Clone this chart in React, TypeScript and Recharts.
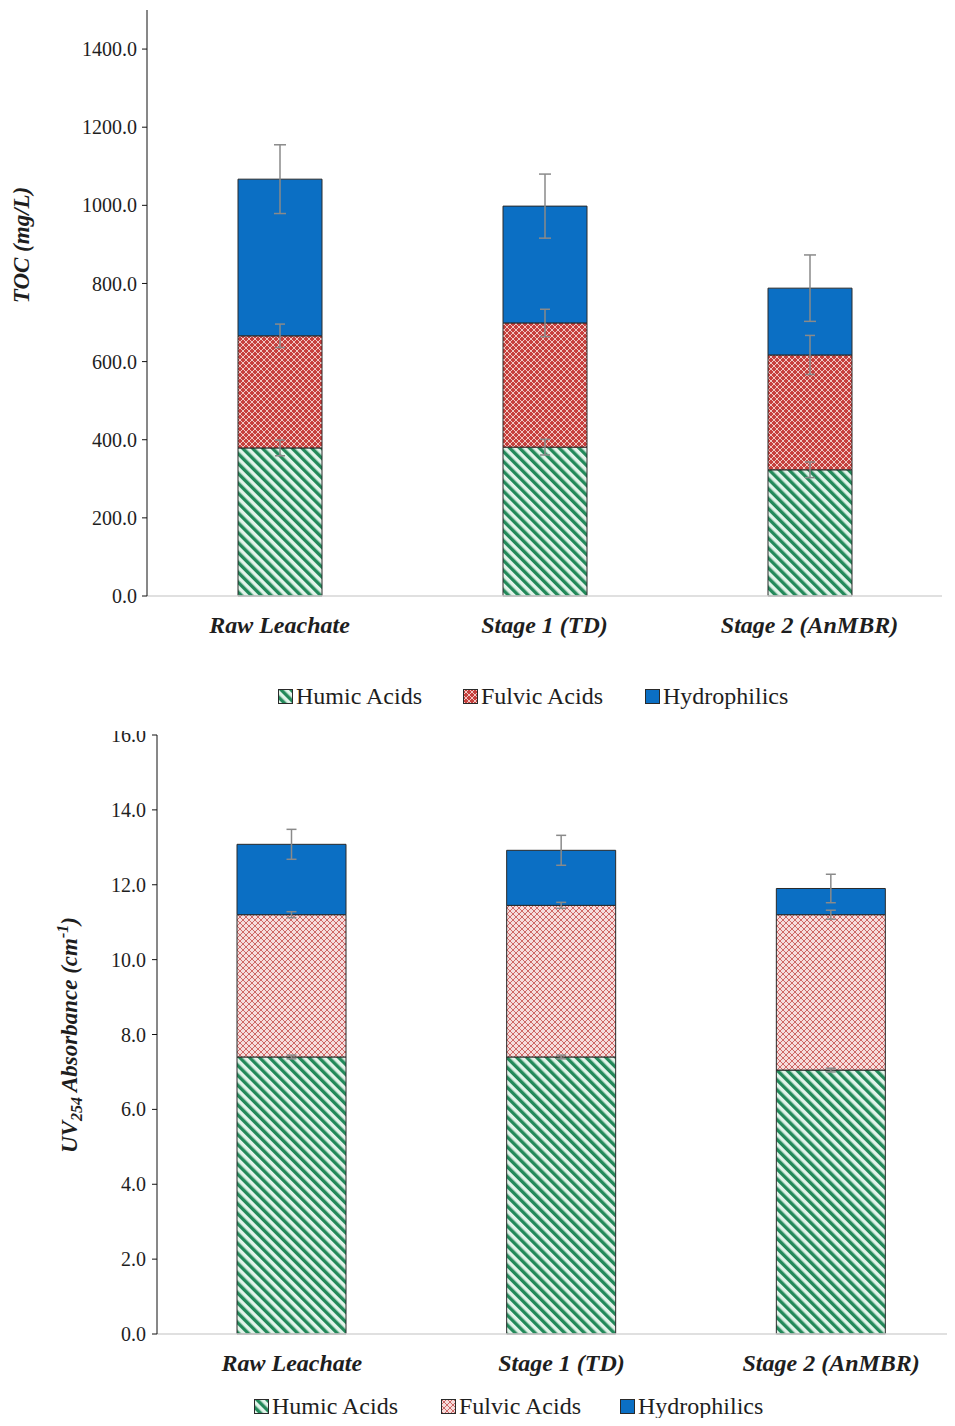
import React from "react";
import { BarChart, Bar, XAxis, YAxis, ErrorBar } from "recharts";

const CATEGORIES = ["Raw Leachate", "Stage 1 (TD)", "Stage 2 (AnMBR)"];
const SERIES = ["Humic Acids", "Fulvic Acids", "Hydrophilics"];

// TOC (mg/L)
const TOC_HUMIC = [379, 381, 323];
const TOC_FULVIC = [287, 318, 294];
const TOC_HYDRO = [401, 299, 171];
const TOC_HUMIC_ERR = [20, 20, 20];
const TOC_FULVIC_ERR = [30, 35, 50];
const TOC_HYDRO_ERR = [88, 82, 85];
const TOC_TICKS = [0, 200, 400, 600, 800, 1000, 1200, 1400];

// UV254 absorbance (cm-1)
const UV_HUMIC = [7.4, 7.4, 7.05];
const UV_FULVIC = [3.8, 4.05, 4.15];
const UV_HYDRO = [1.88, 1.47, 0.7];
const UV_HUMIC_ERR = [0.05, 0.05, 0.05];
const UV_FULVIC_ERR = [0.08, 0.08, 0.12];
const UV_HYDRO_ERR = [0.4, 0.4, 0.38];
const UV_TICKS = [0, 2, 4, 6, 8, 10, 12, 14, 16];

const SERIF = "'Liberation Serif', 'Times New Roman', serif";
const INK = "#1e1e1e";
const BLUE = "#0b6fc4";
const EDGE = "#2a2a2a";
const ERR = "#8a8a8a";

const build = (h: number[], f: number[], y: number[], he: number[], fe: number[], ye: number[]) =>
  CATEGORIES.map((name, i) => ({
    name,
    humic: h[i],
    fulvic: f[i],
    hydro: y[i],
    humicErr: he[i],
    fulvicErr: fe[i],
    hydroErr: ye[i],
  }));

const TOC_DATA = build(TOC_HUMIC, TOC_FULVIC, TOC_HYDRO, TOC_HUMIC_ERR, TOC_FULVIC_ERR, TOC_HYDRO_ERR);
const UV_DATA = build(UV_HUMIC, UV_FULVIC, UV_HYDRO, UV_HUMIC_ERR, UV_FULVIC_ERR, UV_HYDRO_ERR);

const Patterns = ({ p }: { p: string }) => (
  <defs>
    <pattern id={`${p}-humic`} width="7" height="7" patternUnits="userSpaceOnUse" patternTransform="rotate(-45)">
      <rect width="7" height="7" fill="#e2f4ea" />
      <rect width="3.4" height="7" fill="#23895a" />
    </pattern>
    <pattern id={`${p}-fulvicA`} width="6" height="6" patternUnits="userSpaceOnUse">
      <rect width="6" height="6" fill="#c6403d" />
      <path d="M0 0 L6 6 M6 0 L0 6" stroke="#f5d6d4" strokeWidth="0.9" />
    </pattern>
    <pattern id={`${p}-fulvicB`} width="6" height="6" patternUnits="userSpaceOnUse">
      <rect width="6" height="6" fill="#f6dcdc" />
      <path d="M0 0 L6 6 M6 0 L0 6" stroke="#c95a58" strokeWidth="0.9" />
    </pattern>
  </defs>
);

const CatTick = (props: any) => {
  const { x, y, payload } = props;
  return (
    <text
      x={x}
      y={y + 29}
      textAnchor="middle"
      fontFamily={SERIF}
      fontSize={24}
      fontWeight="bold"
      fontStyle="italic"
      fill={INK}
    >
      {payload.value}
    </text>
  );
};

const Swatch = ({ kind }: { kind: string }) => (
  <svg width="15" height="15" style={{ display: "block" }}>
    <Patterns p={`sw-${kind}`} />
    <rect
      x="0.5"
      y="0.5"
      width="14"
      height="14"
      fill={kind === "hydro" ? BLUE : `url(#sw-${kind}-${kind})`}
      stroke={EDGE}
      strokeWidth="1"
    />
  </svg>
);

const LegendRow = ({ top, lefts, fulvic }: { top: number; lefts: number[]; fulvic: string }) => {
  const kinds = ["humic", fulvic, "hydro"];
  return (
    <>
      {SERIES.map((s, i) => (
        <div
          key={s}
          style={{
            position: "absolute",
            top: top - 13,
            left: lefts[i],
            display: "flex",
            alignItems: "center",
            gap: 3,
            fontFamily: SERIF,
            fontSize: 24,
            color: INK,
            lineHeight: "26px",
            whiteSpace: "nowrap",
          }}
        >
          <Swatch kind={kinds[i]} />
          <span>{s}</span>
        </div>
      ))}
    </>
  );
};

const TocChart = () => (
  <BarChart
    width={955}
    height={660}
    data={TOC_DATA}
    margin={{ top: 10, right: 13, left: 0, bottom: 14 }}
    barSize={84}
  >
    <Patterns p="toc" />
    <XAxis
      dataKey="name"
      height={50}
      tickLine={false}
      axisLine={{ stroke: "#d6d6d6", strokeWidth: 1.5 }}
      tick={<CatTick />}
      interval={0}
    />
    <YAxis
      width={147}
      domain={[0, 1500]}
      ticks={TOC_TICKS}
      interval={0}
      tickFormatter={(v: number) => v.toFixed(1)}
      axisLine={{ stroke: "#111" }}
      tickLine={{ stroke: "#111" }}
      tickSize={5}
      tickMargin={5}
      tick={{ fontFamily: SERIF, fontSize: 20, fill: INK }}
      label={{
        content: () => (
          <text
            transform="translate(29,245) rotate(-90)"
            textAnchor="middle"
            fontFamily={SERIF}
            fontSize={23}
            fontWeight="bold"
            fontStyle="italic"
            fill={INK}
          >
            TOC (mg/L)
          </text>
        ),
      }}
    />
    <Bar dataKey="humic" stackId="a" fill="url(#toc-humic)" stroke={EDGE} strokeWidth={1} isAnimationActive={false}>
      <ErrorBar dataKey="humicErr" width={5} stroke={ERR} strokeWidth={1.5} direction="y" />
    </Bar>
    <Bar dataKey="fulvic" stackId="a" fill="url(#toc-fulvicA)" stroke={EDGE} strokeWidth={1} isAnimationActive={false}>
      <ErrorBar dataKey="fulvicErr" width={5} stroke={ERR} strokeWidth={1.5} direction="y" />
    </Bar>
    <Bar dataKey="hydro" stackId="a" fill={BLUE} stroke={EDGE} strokeWidth={1} isAnimationActive={false}>
      <ErrorBar dataKey="hydroErr" width={6} stroke={ERR} strokeWidth={1.5} direction="y" />
    </Bar>
  </BarChart>
);

const UvChart = () => (
  <BarChart
    width={970}
    height={695}
    data={UV_DATA}
    margin={{ top: 4, right: 4, left: 0, bottom: 42 }}
    barSize={109}
  >
    <Patterns p="uv" />
    <XAxis
      dataKey="name"
      height={50}
      tickLine={false}
      axisLine={{ stroke: "#d6d6d6", strokeWidth: 1.5 }}
      tick={<CatTick />}
      interval={0}
    />
    <YAxis
      width={157}
      domain={[0, 16]}
      ticks={UV_TICKS}
      interval={0}
      tickFormatter={(v: number) => v.toFixed(1)}
      axisLine={{ stroke: "#111" }}
      tickLine={{ stroke: "#111" }}
      tickSize={5}
      tickMargin={6}
      tick={{ fontFamily: SERIF, fontSize: 20, fill: INK }}
      label={{
        content: () => (
          <text
            transform="translate(77,304) rotate(-90)"
            textAnchor="middle"
            fontFamily={SERIF}
            fontSize={23}
            fontWeight="bold"
            fontStyle="italic"
            fill={INK}
          >
            UV
            <tspan dy={5} fontSize={16}>254</tspan>
            <tspan dy={-5}> Absorbance (cm</tspan>
            <tspan dy={-9} fontSize={16}>-1</tspan>
            <tspan dy={9}>)</tspan>
          </text>
        ),
      }}
    />
    <Bar dataKey="humic" stackId="a" fill="url(#uv-humic)" stroke={EDGE} strokeWidth={1} isAnimationActive={false}>
      <ErrorBar dataKey="humicErr" width={5} stroke={ERR} strokeWidth={1.5} direction="y" />
    </Bar>
    <Bar dataKey="fulvic" stackId="a" fill="url(#uv-fulvicB)" stroke={EDGE} strokeWidth={1} isAnimationActive={false}>
      <ErrorBar dataKey="fulvicErr" width={5} stroke={ERR} strokeWidth={1.5} direction="y" />
    </Bar>
    <Bar dataKey="hydro" stackId="a" fill={BLUE} stroke={EDGE} strokeWidth={1} isAnimationActive={false}>
      <ErrorBar dataKey="hydroErr" width={5} stroke={ERR} strokeWidth={1.5} direction="y" />
    </Bar>
  </BarChart>
);

export default function App() {
  return (
    <div
      style={{
        position: "relative",
        width: 955,
        height: 1426,
        margin: -8,
        overflow: "hidden",
        background: "#fff",
      }}
    >
      <div style={{ position: "absolute", top: 0, left: 0 }}>
        <TocChart />
      </div>
      <LegendRow top={696} lefts={[278, 463, 645]} fulvic="fulvicA" />
      <div style={{ position: "absolute", top: 731, left: 0, width: 955, height: 695, overflow: "hidden" }}>
        <UvChart />
      </div>
      <LegendRow top={1406} lefts={[254, 441, 620]} fulvic="fulvicB" />
    </div>
  );
}
